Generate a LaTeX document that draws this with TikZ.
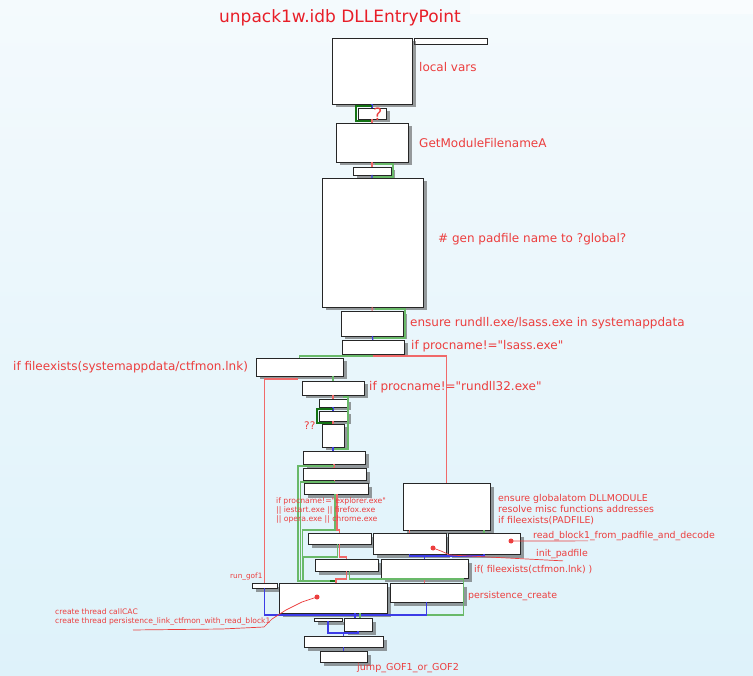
\documentclass[tikz,border=0pt]{standalone}
\usepackage{fontspec}
\setmainfont{DejaVu Sans}
\usetikzlibrary{calc,shadows}
\definecolor{bgtop}{RGB}{244,250,253}
\definecolor{bgbot}{RGB}{222,242,250}
\definecolor{ttlred}{RGB}{232,30,40}
\definecolor{lblred}{RGB}{236,62,62}
\definecolor{edgred}{RGB}{240,105,105}
\definecolor{edggreen}{RGB}{105,185,105}
\definecolor{loopgreen}{RGB}{20,115,20}
\definecolor{edgblue}{RGB}{60,60,230}
\newcommand{\dq}{\textquotedbl}
\tikzset{
  blk/.style={draw=black!85,fill=white,line width=0.9pt,inner sep=0pt,outer sep=0pt,
    drop shadow={shadow xshift=3.5pt,shadow yshift=-3.5pt,fill=black!70,opacity=0.55}},
  bar/.style={draw=black!85,fill=white,line width=0.8pt,inner sep=0pt,outer sep=0pt},
  big/.style={text=lblred,inner sep=0pt,anchor=west,font=\fontsize{12}{14}\selectfont},
  mid/.style={text=lblred,inner sep=0pt,anchor=west,align=left,font=\fontsize{9.4}{11}\selectfont},
  tiny/.style={text=lblred,inner sep=0pt,anchor=west,align=left,font=\fontsize{7.7}{9}\selectfont},
  ered/.style={draw=edgred,line width=1.1pt},
  egreen/.style={draw=edggreen,line width=1.3pt},
  eblue/.style={draw=edgblue,line width=1.2pt},
  gloop/.style={draw=loopgreen,line width=2.2pt},
  ptr/.style={draw=lblred,line width=0.7pt},
}
\begin{document}
\begin{tikzpicture}[x=1pt,y=-1pt]
  \useasboundingbox (0,0) rectangle (753,676);
  \shade[top color=bgtop,bottom color=bgbot] (0,0) rectangle (753,676);
  \fill[bgtop!50!white] (470,0) rectangle (753,14);
  \node[font=\fontsize{17}{20}\selectfont,text=ttlred] (ttl) at (340,18) {unpack1w.idb DLLEntryPoint};

  % basic blocks
  \node[bar,minimum width=73pt,minimum height=6pt] (tb) at (450.5,41) {};
  \foreach \nm/\xa/\ya/\xb/\yb in {lv/332/38/412/104, q1/358/108/386/119, gm/336/123/408/162,
      d1/353/167/391/175, pad/322/178/423/307, ens/341/311/403/336, lsa/342/340/404/354,
      cfl/256/358/343/376, rdl/302/381/364/395, k1/319/399/347/407, k2/319/411/347/421,
      k3/322/424/344/447, n1/303/451/365/464, n2/303/468/366/480, n3/304/483/368/494,
      gat/403/483/490/530, q2/308/533/371/544, ini/373/533/446/554, rbl/448/533/520/554,
      u1/315/559/378/571, fex/381/559/468/578, gof/252/583/277/588, thr/279/583/387/613,
      pcr/390/583/463/602, y1/314/618/342/621, z1/344/618/372/631, aa/304/636/383/647,
      jmp/320/651/367/662}
    \node[blk,minimum width={(\xb-\xa)*1pt},minimum height={(\yb-\ya)*1pt}] (\nm) at ({(\xa+\xb)/2},{(\ya+\yb)/2}) {};

  % edges
  \draw[eblue] (lv) -- (q1);
  \draw[gloop] ($(q1.north)+(0,-2)$) -| ($(q1.west)+(-2,0)$) |- ($(q1.south)+(0,2)$);
  \draw[ered] (q1) -- (gm);
  \draw[ered] (gm) -- (d1);
  \draw[egreen] ($(gm.south)+(3,2)$) -| ($(d1.east)+(2,0)$) |- ($(d1.south)+(0,2)$);
  \draw[eblue] (d1) -- (pad);
  \draw[ered] (pad) -- (ens);
  \draw[egreen] ($(pad.south)+(2,2)$) -| ($(ens.east)+(2,0)$) |- ($(ens.south)+(0,2)$);
  \draw[eblue] (ens) -- (lsa);
  \draw[egreen] ($(lsa.south)+(0,2)$) -| (cfl.north);
  \draw[ered] ($(lsa.south)+(0,2)$) -| (gat.north);
  \draw[egreen] (cfl.south -| rdl.north) -- (rdl.north);
  \draw[ered] ($(cfl.south)+(-2,3)$) -| (gof.north);
  \draw[ered] (rdl) -- (k1);
  \draw[egreen] ($(rdl.south)+(10,2)$) -| ($(k3.east)+(4,0)$) |- ($(n1.north)+(0,-2)$);
  \draw[eblue] (k1) -- (k2);
  \draw[gloop] ($(k2.north)+(0,-2)$) -| ($(k2.west)+(-2,0)$) |- ($(k2.south)+(0,2)$);
  \draw[ered] (k2) -- (k3);
  \draw[eblue] (k3) -- (k3 |- n1.north);
  \draw[ered] (n1.south) -- (n1.south |- n2.north);
  \draw[ered] (n2.south) -- (n2.south |- n3.north);
  \coordinate (gin) at ($(thr.north)+(0,-2)$);
  \draw[egreen] ($(n1.south)+(0,2)$) -- ++(-36,0) |- (gin);
  \draw[egreen] ($(n2.south)+(0,2)$) -- ++(-34,0) |- (gin);
  \draw[egreen] ($(n3.south)+(-1,0)$) |- ($(q2.north)+(-37,-3)$) |- (gin);
  \draw[ered] ($(n3.south)+(1,0)$) |- ($(q2.north)+(0,-3)$) -- (q2.north);
  \draw[egreen] ($(q2.south)+(-2,0)$) |- ($(q2.south)+(-36,13)$) |- (gin);
  \draw[ered] (q2.south) |- ($(u1.north)+(0,-2)$) -- (u1.north);
  \draw[ered] (u1.south) |- ($(thr.north)+(3,-4)$) -- ($(thr.north)+(3,0)$);
  \draw[gloop,line width=1.6pt] ($(gin)+(-3,0)$) -- ($(gin)+(2,0)$);
  \draw[ered] (gat.south -| ini.north) -- (ini.north);
  \draw[egreen] (gat.south -| rbl.north) -- (rbl.north);
  \draw[eblue] (ini.south) |- ($(fex.north)+(0,-3)$) -- (fex.north);
  \draw[eblue] (rbl.south) |- ($(fex.north)+(0,-3)$);
  \draw[ered] (fex.south) -- (fex.south |- pcr.north);
  \coordinate (zin) at ($(z1.north)+(-3,-3)$);
  \draw[egreen] ($(u1.south)+(3,0)$) |- ($(pcr.north)+(37,-4)$) |- (zin);
  \draw[eblue] (gof.south) |- (zin);
  \draw[eblue] (pcr.south) |- (zin);
  \draw[eblue] (thr.south -| zin) -- ($(z1.north)+(-3,0)$);
  \draw[egreen] ($(thr.south -| zin)+(5,0)$) -- ($(z1.north)+(2,0)$);
  \draw[eblue] (y1.south) |- ($(aa.north)+(0,-3)$) -- (aa.north);
  \draw[eblue] (z1.south) |- ($(aa.north)+(0,-3)$);
  \draw[eblue] (aa.south) -- (aa.south |- jmp.north);

  % comments of the listing
  \node[big] (llv) at (419,67) {local vars};
  \node[text=lblred,font=\fontsize{17}{19}\selectfont,inner sep=0pt] (lq) at (378,114) {?};
  \node[big] (lgm) at (419,143) {GetModuleFilenameA};
  \node[big] (lpad) at (438,239) {\# gen padfile name to ?global?};
  \node[big] (lens) at (410,323) {ensure rundll.exe/lsass.exe in systemappdata};
  \node[big] (llsa) at (411,346) {if procname!=\dq lsass.exe\dq};
  \node[big] (lcfl) at (13,367) {if fileexists(systemappdata/ctfmon.lnk)};
  \node[big] (lrdl) at (369,387) {if procname!=\dq rundll32.exe\dq};
  \node[big,font=\fontsize{10.5}{12}\selectfont] (lqq) at (304,426) {??};
  \node[tiny] (lbro) at (276,510) {if procname!=\dq explorer.exe\dq\\|| iestart.exe || firefox.exe\\|| opera.exe || chrome.exe};
  \node[mid] (lgat) at (498,510) {ensure globalatom DLLMODULE\\resolve misc functions addresses\\if fileexists(PADFILE)};
  \node[mid] (lread) at (533,536) {read\_block1\_from\_padfile\_and\_decode};
  \node[mid] (linit) at (536,554) {init\_padfile};
  \node[mid] (lfex) at (474,570) {if( fileexists(ctfmon.lnk) )};
  \node[mid] (lpcr) at (468,596) {persistence\_create};
  \node[tiny,font=\fontsize{7.3}{9}\selectfont] (lgof) at (230,577) {run\_gof1};
  \node[tiny,font=\fontsize{7.6}{9}\selectfont] (lthr) at (55,617.5) {create thread callCAC\\create thread persistence\_link\_ctfmon\_with\_read\_block1};
  \node[mid,font=\fontsize{9.6}{11}\selectfont] (ljmp) at (357,668) {jump\_GOF1\_or\_GOF2};

  % pointers from calls to their comments
  \coordinate (dini) at ($(ini.east)+(-13,4.5)$);
  \coordinate (drbl) at ($(rbl.east)+(-9,-2.5)$);
  \coordinate (dthr) at ($(thr.center)+(-16,-1)$);
  \fill[lblred] (dini) circle (2.5pt) (drbl) circle (2.5pt) (dthr) circle (2.5pt);
  \draw[ptr] (drbl) -- ($(lread.south west)+(55,0)$);
  \draw[ptr] (dini) -- ++(8,3) -- ++(9,4) -- ($(linit.south west)+(27,2)$);
  \draw[ptr] (dthr) -- ++(-15,5) -- ++(-16,8) -- ++(-14,9) -- ++(-8,8) -- ++(-42,2) -- ($(lthr.south west)+(78,4)$);
\end{tikzpicture}
\end{document}
